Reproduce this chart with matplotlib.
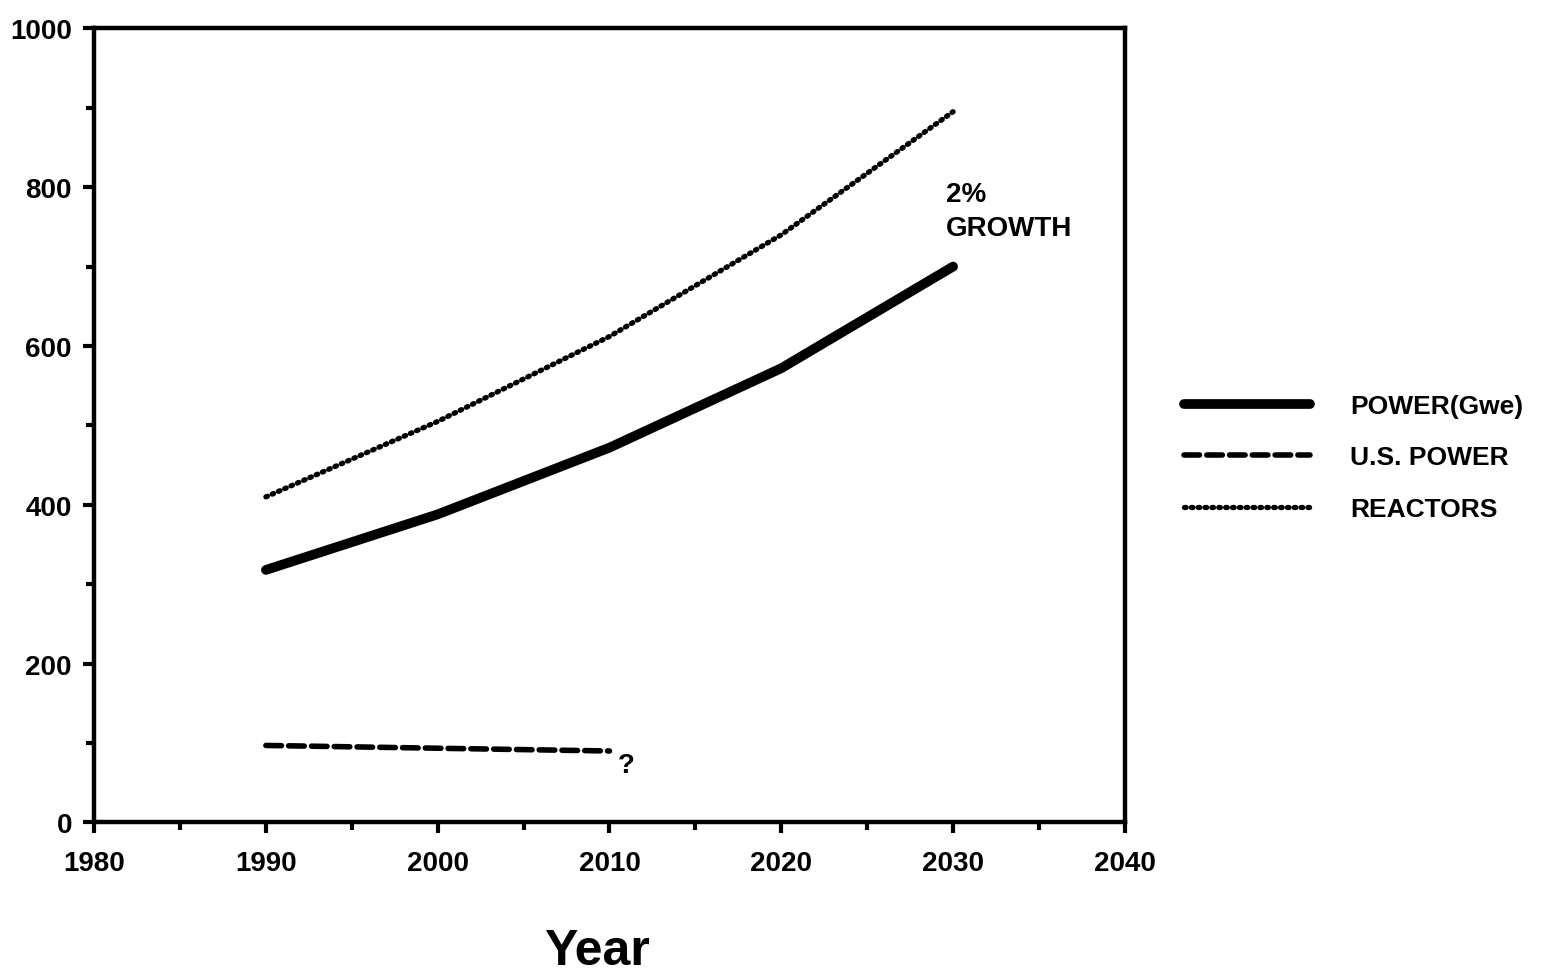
import matplotlib
matplotlib.use("Agg")
import matplotlib.pyplot as plt
from matplotlib.ticker import MultipleLocator

plt.rcParams["font.family"] = ["Liberation Sans", "DejaVu Sans"]
plt.rcParams["font.weight"] = "bold"

# values
years = [1990, 2000, 2010, 2020, 2030]
power_gwe = [318, 388, 472, 572, 700]
reactors = [410, 505, 612, 740, 895]
us_years = [1990, 2010]
us_power = [97, 90]

fig = plt.figure(figsize=(15.43, 9.78), dpi=100)
ax = fig.add_axes([0.061, 0.158, 0.668, 0.812])

ax.plot(years, power_gwe, color="black", linewidth=7, solid_capstyle="round",
        label="POWER(Gwe)")
ax.plot(us_years, us_power, color="black", linewidth=4,
        linestyle=(0, (2.8, 1.3)), dash_capstyle="round", label="U.S. POWER")
ax.plot(years, reactors, color="black", linewidth=3.8,
        linestyle=(0, (0.3, 1.0)), dash_capstyle="round", label="REACTORS")

ax.text(2029.6, 808, "2%\nGROWTH", fontsize=20, fontweight="bold",
        va="top", ha="left", linespacing=1.4)
ax.text(2010.5, 72, "?", fontsize=20, fontweight="bold", va="center", ha="left")

ax.set_xlim(1980, 2040)
ax.set_ylim(0, 1000)
ax.xaxis.set_major_locator(MultipleLocator(10))
ax.xaxis.set_minor_locator(MultipleLocator(5))
ax.yaxis.set_major_locator(MultipleLocator(200))
ax.yaxis.set_minor_locator(MultipleLocator(100))
ax.tick_params(which="both", direction="out", width=3, length=8,
               labelsize=20, pad=12)
ax.tick_params(axis="y", pad=8)
ax.tick_params(which="minor", length=6)
for s in ax.spines.values():
    s.set_linewidth(3.2)
for lab in ax.get_xticklabels() + ax.get_yticklabels():
    lab.set_fontweight("bold")

fig.text(597 / 1543, 1 - 952 / 978, "Year", fontsize=36, fontweight="bold",
         ha="center", va="center")

fig.legend(loc="upper left", bbox_to_anchor=(1160 / 1543, 1 - 371 / 978),
           frameon=False, fontsize=19, handlelength=4.8, handletextpad=1.5,
           labelspacing=1.05)

fig.savefig("out.png", dpi=100)
